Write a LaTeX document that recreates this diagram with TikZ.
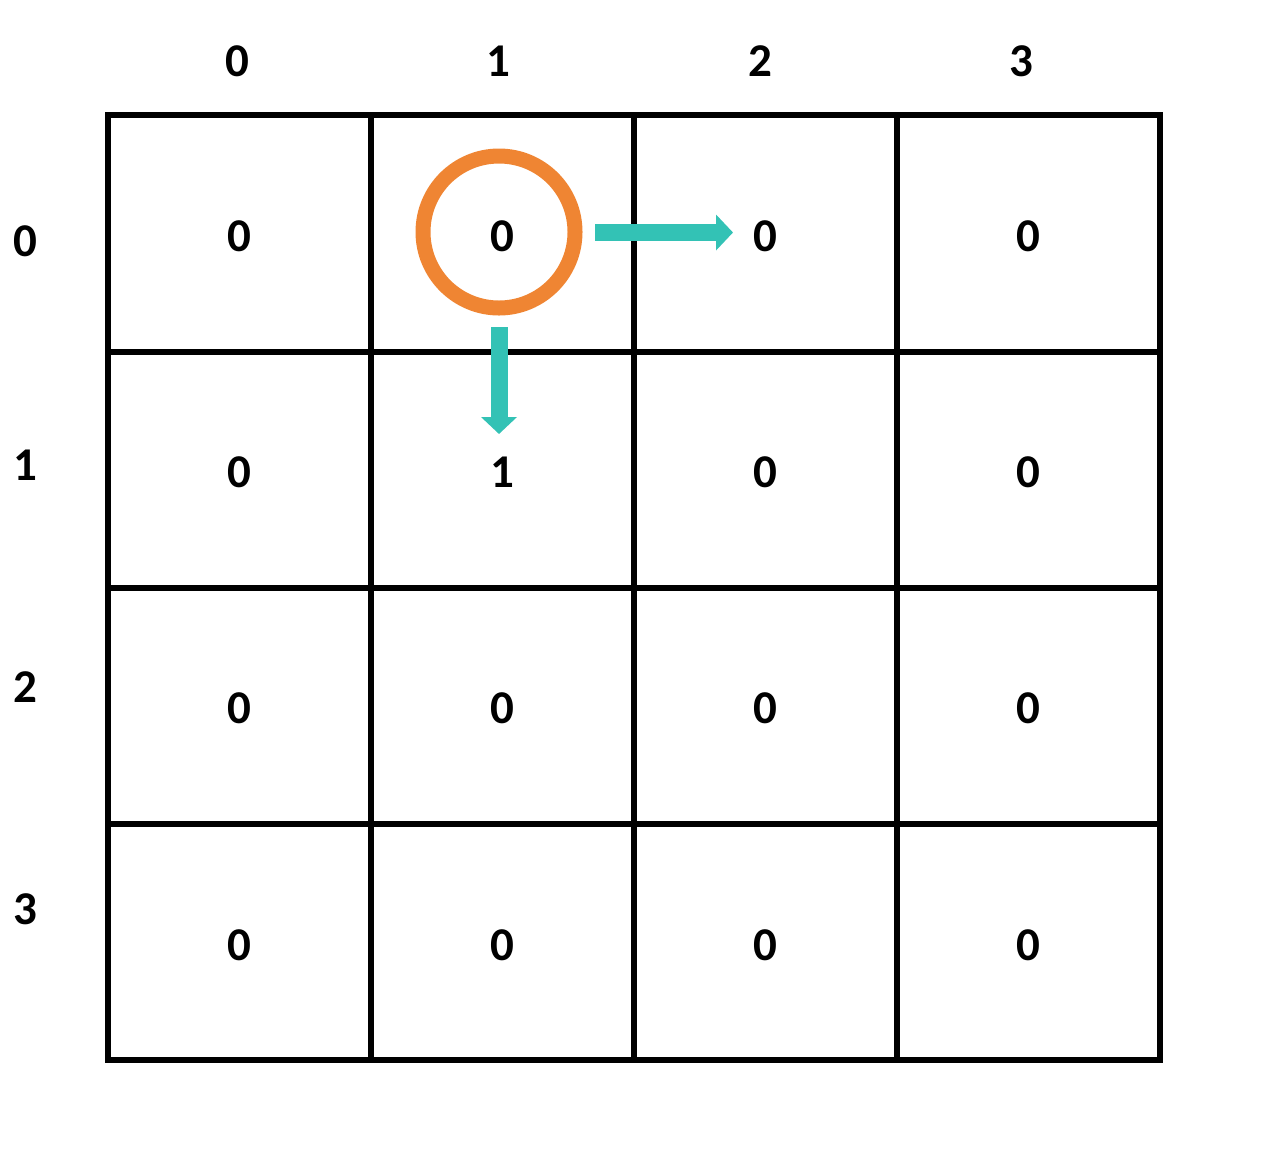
\documentclass[tikz,border=0pt]{standalone}
\usepackage{fontspec}
\setmainfont{Carlito}
\usetikzlibrary{arrows.meta}
\definecolor{ringorange}{HTML}{EF8533}
\definecolor{arrowteal}{HTML}{33C2B5}
\begin{document}
\begin{tikzpicture}[x=0.5pt,y=-0.5pt,
  lbl/.style={font=\fontsize{23.5}{28}\selectfont\bfseries, inner sep=0pt},
  gridline/.style={line width=3pt, line cap=rect},
  bigarrow/.style={arrowteal, line width=8.5pt, -{Triangle[width=17.5pt,length=8.5pt]}},
  ring/.style={circle, draw=ringorange, line width=7.5pt, minimum size=76pt, inner sep=0pt}]
\useasboundingbox (0,0) rectangle (1261,1174);
% grid
\foreach \x in {108,371,634,897,1160} \draw[gridline] (\x,115) -- (\x,1060);
\foreach \y in {115,352,588,824,1060} \draw[gridline] (108,\y) -- (1160,\y);
% column headers
\node[lbl] (h0) at (237,61) {0};
\node[lbl] (h1) at (498,61) {1};
\node[lbl] (h2) at (760,61) {2};
\node[lbl] (h3) at (1021,61) {3};
% row headers
\node[lbl] (r0) at (25,241) {0};
\node[lbl] (r1) at (25,465) {1};
\node[lbl] (r2) at (25,687) {2};
\node[lbl] (r3) at (25,909) {3};
% cells
\foreach \c/\x in {0/239,1/502,2/765,3/1028}{
  \foreach \r/\y in {0/236,1/472,2/708,3/945}{
    \ifnum\c=1 \ifnum\r=1 \def\v{1}\else\def\v{0}\fi\else\def\v{0}\fi
    \node[lbl] (v\r\c) at (\x,\y) {\v};
  }
}
% ring
\node[ring] (ring) at (499,232) {};
% arrows
\coordinate (ra) at (595,232.5);
\coordinate (rb) at (733,232.5);
\coordinate (da) at (499,327);
\coordinate (db) at (499,434);
\draw[bigarrow] (ra) -- (rb);
\draw[bigarrow] (da) -- (db);
\end{tikzpicture}
\end{document}
